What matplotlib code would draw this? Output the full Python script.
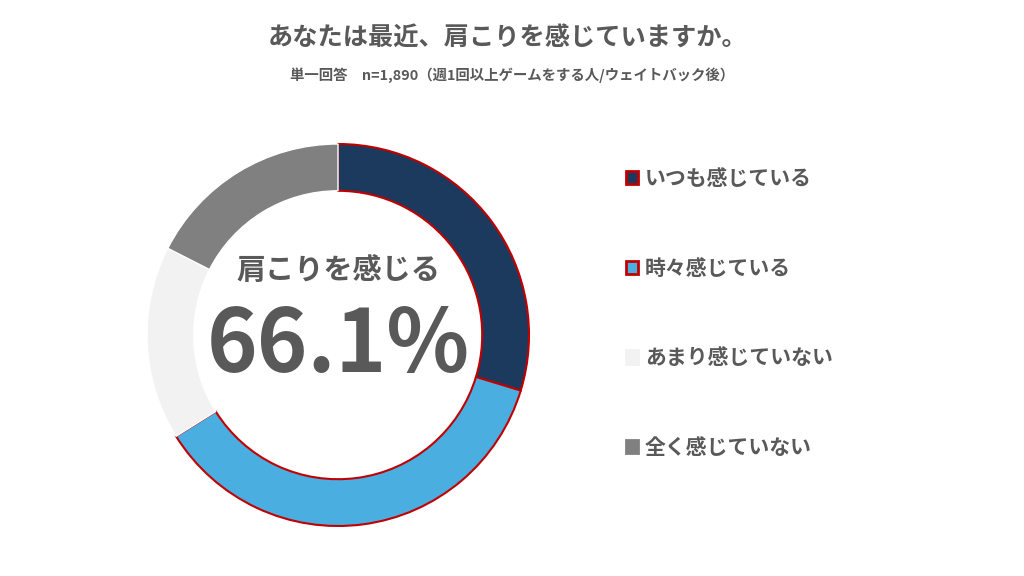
import matplotlib.pyplot as plt
from matplotlib.patches import Patch

plt.rcParams['font.family'] = ['Noto Sans CJK JP', 'DejaVu Sans']

# data
labels = ['いつも感じている', '時々感じている', 'あまり感じていない', '全く感じていない']
values = [29.7, 36.4, 16.4, 17.5]
colors = ['#1B3A5E', '#4BAEE0', '#F2F2F2', '#808080']
edges = ['#C00000', '#C00000', 'white', 'white']
total_label = '肩こりを感じる'
total_value = '66.1%'

title = 'あなたは最近、肩こりを感じていますか。'
subtitle = '単一回答　n=1,890（週1回以上ゲームをする人/ウェイトバック後）'

text_color = '#595959'

fig = plt.figure(figsize=(10.24, 5.76), dpi=100)
fig.patch.set_facecolor('white')

# pie axes centred at (338, 335) px, radius ~191 px
cx, cy, r = 338, 335, 191
ax = fig.add_axes([(cx - r) / 1024, (576 - cy - r) / 576, 2 * r / 1024, 2 * r / 576])
wedges, _ = ax.pie(values, colors=colors, startangle=90, counterclock=False,
                   radius=1, wedgeprops=dict(width=0.245, linewidth=1.5))
for w, ec in zip(wedges, edges):
    w.set_edgecolor(ec)
    if ec == 'white':
        w.set_linewidth(1.0)
ax.set_xlim(-1, 1)
ax.set_ylim(-1, 1)
ax.set_aspect('equal')
ax.axis('off')

ax.text(0, 0.34, total_label, ha='center', va='center', fontsize=21,
        fontweight='bold', color=text_color)
ax.text(0, -0.06, total_value, ha='center', va='center', fontsize=62,
        fontweight='bold', color=text_color)

fig.text(0.496, 0.934, title, ha='center', va='center', fontsize=18.2,
         fontweight='bold', color=text_color)
fig.text(0.5, 0.869, subtitle, ha='center', va='center', fontsize=10.4,
         fontweight='bold', color=text_color)

handles = [Patch(facecolor=c, edgecolor=e if e != 'white' else c, linewidth=2)
           for c, e in zip(colors, edges)]
fig.legend(handles, labels, loc='upper left', bbox_to_anchor=(0.593, 0.741),
           frameon=False, labelspacing=3.3, handlelength=0.6,
           handleheight=0.6, handletextpad=0.3, labelcolor=text_color,
           prop=dict(weight='bold', size=15))

fig.savefig('out.png', dpi=100, facecolor='white')
